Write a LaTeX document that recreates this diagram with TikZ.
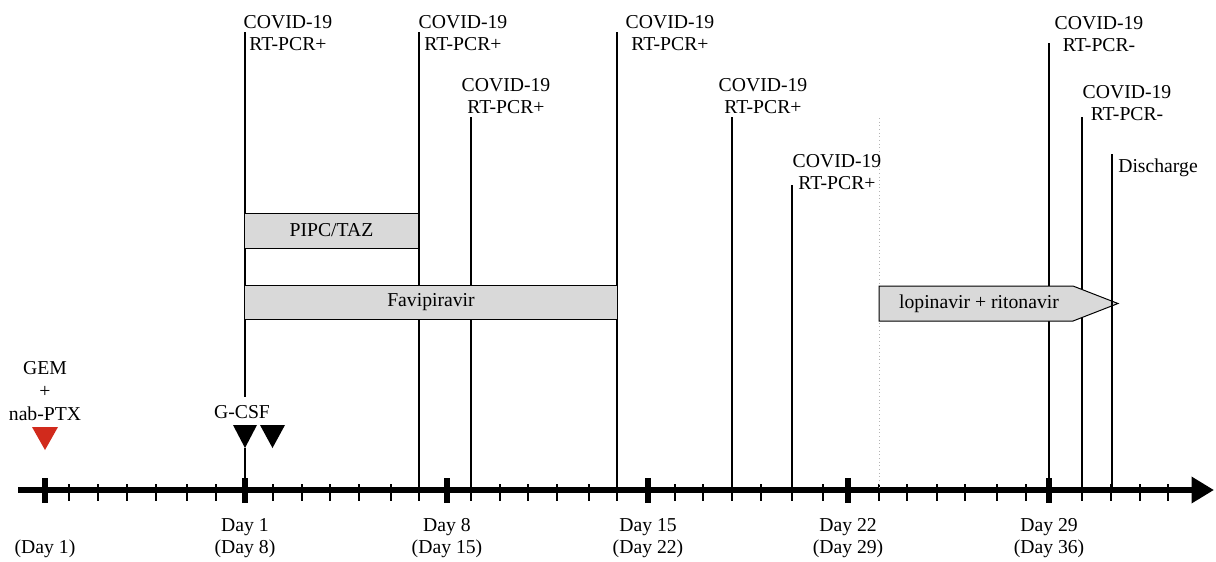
\documentclass[tikz,border=0pt]{standalone}
\usepackage{fontspec}
\setmainfont{Liberation Serif}
\usetikzlibrary{arrows.meta,positioning}
\definecolor{BoxGray}{HTML}{D9D9D9}
\definecolor{MarkRed}{HTML}{D12A1C}
\definecolor{DotGray}{HTML}{B4B4B4}
\tikzset{
  axisline/.style={line width=4.6pt, -{Triangle[length=16pt,width=18pt]}},
  majortick/.style={line width=4.2pt},
  minortick/.style={line width=0.8pt},
  eventline/.style={line width=2.1pt},
  drugbox/.style={draw=black, fill=BoxGray, line width=0.7pt, inner sep=0pt, font=\fontsize{14}{15.6}\selectfont},
  eventlabel/.style={align=center, inner sep=0pt, font=\fontsize{14}{15.6}\selectfont},
  daylabel/.style={align=center, inner sep=0pt, font=\fontsize{14}{15.6}\selectfont},
}

\begin{document}
\begin{tikzpicture}[x=0.025cm,y=-0.025cm]
\useasboundingbox (0,0) rectangle (1216,561);

% time axis
\coordinate (axstart) at (18,490);
\coordinate (axend) at (1214,490);
\draw[axisline] (axstart) -- (axend);
\foreach \x in {69,98,127,156,187,216,273,302,330,359,391,419,471,500,528,557,589,617,675,703,732,761,792,823,879,907,937,965,997,1026,1082,1111,1140,1168}
  \draw[minortick] (\x,484) -- (\x,501);
\foreach \x in {45,245,447,648,848,1049}
  \draw[majortick] (\x,478) -- (\x,503);

% day labels
\node[daylabel] (d0) at (45,549) {(Day 1)};
\node[daylabel] (d7) at (245,538) {Day 1\\(Day 8)};
\node[daylabel] (d14) at (447,538) {Day 8\\(Day 15)};
\node[daylabel] (d21) at (648,538) {Day 15\\(Day 22)};
\node[daylabel] (d28) at (848,538) {Day 22\\(Day 29)};
\node[daylabel] (d35) at (1049,538) {Day 29\\(Day 36)};

% points on the axis and tops of event lines
\coordinate (a7) at (245,490);   \coordinate (t7) at (245,32);
\coordinate (a13) at (419,490);  \coordinate (t13) at (419,32);
\coordinate (a15) at (471,490);  \coordinate (t15) at (471,117);
\coordinate (a20) at (617,490);  \coordinate (t20) at (617,32);
\coordinate (a24) at (732,490);  \coordinate (t24) at (732,117);
\coordinate (a26) at (792,490);  \coordinate (t26) at (792,185);
\coordinate (a29) at (879,490);  \coordinate (t29) at (879,118);
\coordinate (a35) at (1049,490); \coordinate (t35) at (1049,43);
\coordinate (a36) at (1082,490); \coordinate (t36) at (1082,117);
\coordinate (a37) at (1112,490); \coordinate (t37) at (1112,154);

% GEM + nab-PTX and G-CSF
\node[eventlabel,font=\fontsize{14}{16.6}\selectfont] (gem) at (45,391) {GEM\\+\\nab-PTX};
\fill[MarkRed] (32,427) -- (58,427) -- (45,450) -- cycle;
\node[eventlabel] (gcsf) at (242,412) {G-CSF};
\coordinate (gbreak) at (245,397);
\coordinate (gtip) at (245,448);
\fill (233,425) -- (257,425) -- (gtip) -- cycle;
\fill (260,425) -- (285,425) -- (272.5,448) -- cycle;

% event lines
\draw[eventline] (t7) -- (gbreak);
\draw[eventline] (gtip) -- (a7);
\draw[eventline] (t13) -- (a13);
\draw[eventline] (t15) -- (a15);
\draw[eventline] (t20) -- (a20);
\draw[eventline] (t24) -- (a24);
\draw[eventline] (t26) -- (a26);
\draw[DotGray,line width=0.6pt,dotted] (t29) -- (a29);
\draw[eventline] (t35) -- (a35);
\draw[eventline] (t36) -- (a36);

% test labels
\node[eventlabel] (pcr1) at (288,33) {COVID-19\\RT-PCR+};
\node[eventlabel] (pcr2) at (463,33) {COVID-19\\RT-PCR+};
\node[eventlabel] (pcr3) at (506,96) {COVID-19\\RT-PCR+};
\node[eventlabel] (pcr4) at (670,33) {COVID-19\\RT-PCR+};
\node[eventlabel] (pcr5) at (763,96) {COVID-19\\RT-PCR+};
\node[eventlabel] (pcr6) at (837,172) {COVID-19\\RT-PCR+};
\node[eventlabel] (pcr7) at (1099,34) {COVID-19\\RT-PCR-};
\node[eventlabel] (pcr8) at (1127,103) {COVID-19\\RT-PCR-};
\node[eventlabel] (disch) at (1158,168) {Discharge};

% treatments
\node[drugbox,minimum width=4.325cm,minimum height=0.875cm] (pipc) at (331.5,230.5) {PIPC/TAZ};
\node[drugbox,minimum width=9.3cm,minimum height=0.85cm] (favi) at (431,302) {Favipiravir};
\draw[drugbox] (879,286) -- (1073,286) -- (1118,303.5) -- (1073,321) -- (879,321) -- cycle;
\node[eventlabel] (lopi) at (979,303.5) {lopinavir + ritonavir};
\draw[eventline] (t37) -- (a37);
\end{tikzpicture}
\end{document}
